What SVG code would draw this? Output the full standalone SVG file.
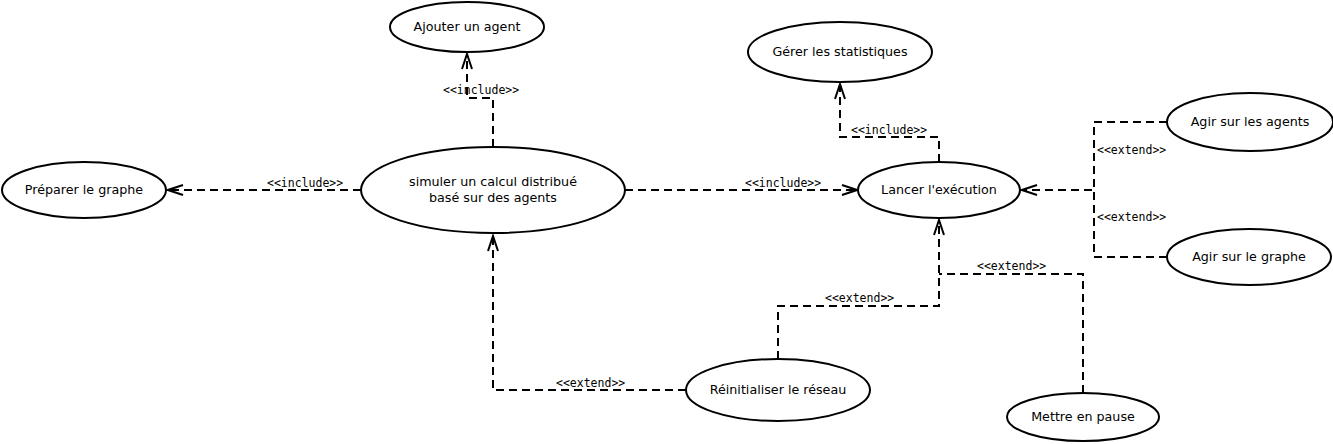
<svg xmlns="http://www.w3.org/2000/svg" width="1333" height="444" viewBox="0 0 1333 444">
<style>
.uc ellipse{fill:#fff;stroke:#000;stroke-width:2}
.uc text{font-family:"DejaVu Sans","Liberation Sans",sans-serif;font-size:12.7px;fill:#000;text-anchor:middle}
.c path{fill:none;stroke:#000;stroke-width:2;stroke-dasharray:8,5;marker-end:url(#open)}
.c path.n{marker-end:none}
.lbl{font-family:"DejaVu Sans Mono","Liberation Mono",monospace;font-size:11.5px;fill:#000}
</style>
<defs>
<marker id="open" viewBox="-17 -8 19 16" refX="0" refY="0" markerWidth="19" markerHeight="16" markerUnits="userSpaceOnUse" orient="auto">
<path d="M-15,-5 L0,0 L-15,5" fill="none" stroke="#000" stroke-width="2" stroke-dasharray="none"/>
</marker>
</defs>
<g id="connectors" class="c">
<path d="M493,147 V98 H467 V54"/>
<path d="M361,190 H168"/>
<path d="M625,190 H857"/>
<path d="M939,162 V137 H840 V84"/>
<path d="M1167,122 H1094 V190 H1022"/>
<path class="n" d="M1167,257 H1094 V190"/>
<path d="M778,359 V306 H939 V220"/>
<path class="n" d="M1083,393 V274 H939"/>
<path d="M686,390 H493 V236"/>
</g>
<g id="labels">
<text class="lbl" x="443" y="94">&lt;&lt;include&gt;&gt;</text>
<text class="lbl" x="267" y="187">&lt;&lt;include&gt;&gt;</text>
<text class="lbl" x="745" y="187">&lt;&lt;include&gt;&gt;</text>
<text class="lbl" x="851" y="134">&lt;&lt;include&gt;&gt;</text>
<text class="lbl" x="1097" y="154">&lt;&lt;extend&gt;&gt;</text>
<text class="lbl" x="1097" y="221">&lt;&lt;extend&gt;&gt;</text>
<text class="lbl" x="825" y="302">&lt;&lt;extend&gt;&gt;</text>
<text class="lbl" x="977" y="270">&lt;&lt;extend&gt;&gt;</text>
<text class="lbl" x="556" y="387">&lt;&lt;extend&gt;&gt;</text>
</g>
<g id="ajouter" class="uc"><ellipse cx="467" cy="27" rx="77" ry="25"/><text x="467" y="31">Ajouter un agent</text></g>
<g id="gerer" class="uc"><ellipse cx="840" cy="52" rx="92" ry="30"/><text x="840" y="56">Gérer les statistiques</text></g>
<g id="preparer" class="uc"><ellipse cx="84" cy="190" rx="82" ry="28"/><text x="84" y="194">Préparer le graphe</text></g>
<g id="simuler" class="uc"><ellipse cx="493" cy="190" rx="132" ry="43"/><text x="493" y="186">simuler un calcul distribué</text><text x="493" y="202">basé sur des agents</text></g>
<g id="lancer" class="uc"><ellipse cx="939" cy="190" rx="81" ry="28"/><text x="939" y="194">Lancer l'exécution</text></g>
<g id="agents" class="uc"><ellipse cx="1250" cy="122" rx="83" ry="29"/><text x="1250" y="126">Agir sur les agents</text></g>
<g id="graphe" class="uc"><ellipse cx="1249" cy="257" rx="82" ry="28"/><text x="1249" y="261">Agir sur le graphe</text></g>
<g id="reinit" class="uc"><ellipse cx="778" cy="390" rx="92" ry="31"/><text x="778" y="394">Réinitialiser le réseau</text></g>
<g id="pause" class="uc"><ellipse cx="1083" cy="417" rx="76" ry="24"/><text x="1083" y="421">Mettre en pause</text></g>
</svg>
